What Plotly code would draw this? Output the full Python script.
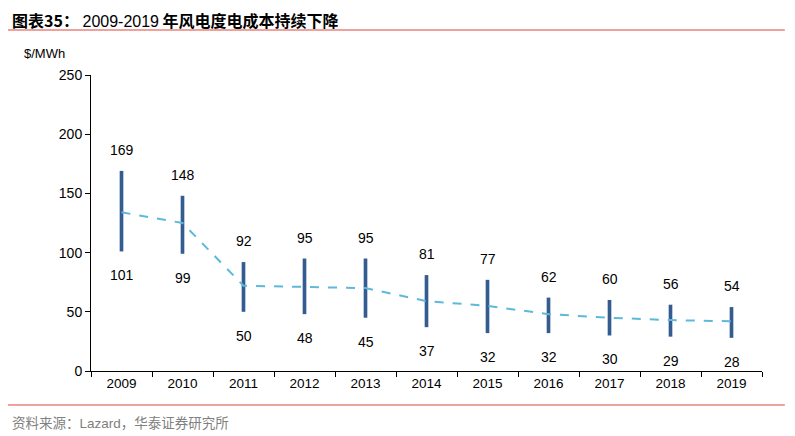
import plotly.graph_objects as go

years = [2009, 2010, 2011, 2012, 2013, 2014, 2015, 2016, 2017, 2018, 2019]
year_labels = ["2009", "2010", "2011", "2012", "2013", "2014", "2015", "2016", "2017", "2018", "2019"]
high = [169, 148, 92, 95, 95, 81, 77, 62, 60, 56, 54]
low = [101, 99, 50, 48, 45, 37, 32, 32, 30, 29, 28]
mid = [134, 125, 72, 71, 70, 59, 55, 48, 45, 43, 42]
y_ticks = [0, 50, 100, 150, 200, 250]

FONT = "Liberation Sans, Arial, sans-serif"
CJK = "Noto Sans CJK SC"

fig = go.Figure()
fig.add_trace(go.Bar(
    x=years, y=[h - l for h, l in zip(high, low)], base=low,
    width=0.06, marker=dict(color="#335C91", line=dict(width=0)),
    hoverinfo="skip", showlegend=False,
))
fig.add_trace(go.Scatter(
    x=years, y=mid, mode="lines",
    line=dict(color="#5DB9D9", width=2, dash="dash"),
    showlegend=False, hoverinfo="skip",
))

ann = []
for x, h, l in zip(years, high, low):
    ann.append(dict(x=x, y=h, text=str(h), showarrow=False, yshift=21,
                    font=dict(family=FONT, size=14, color="black")))
    ann.append(dict(x=x, y=l, text=str(l), showarrow=False, yshift=-24,
                    font=dict(family=FONT, size=14, color="black")))

ann.append(dict(xref="paper", yref="paper", x=-0.1028, y=1.074, xanchor="left", yanchor="middle",
                text="$/MWh", showarrow=False, font=dict(family=FONT, size=13, color="black")))
ann.append(dict(xref="paper", yref="paper", x=-0.1207, y=1.186, xanchor="left", yanchor="middle",
                text="<b>图表35：</b> <span style='font-family:Liberation Sans'>2009-2019</span> <b>年风电度电成本持续下降</b>",
                showarrow=False, font=dict(family=CJK, size=16, color="black")))
ann.append(dict(xref="paper", yref="paper", x=-0.1207, y=-0.172, xanchor="left", yanchor="middle",
                text="资料来源：<span style='font-family:Liberation Sans'>Lazard</span>，华泰证券研究所",
                showarrow=False, font=dict(family=CJK, size=13.5, color="#808080")))

shapes = [
    dict(type="line", xref="paper", yref="paper", x0=-0.1237, x1=1.034, y0=1.152, y1=1.152,
         line=dict(color="#E8837A", width=1.5)),
    dict(type="line", xref="paper", yref="paper", x0=-0.1237, x1=1.034, y0=-0.115, y1=-0.115,
         line=dict(color="#E8837A", width=1.5)),
]

fig.update_layout(
    width=795, height=436,
    margin=dict(l=83, r=41, t=67, b=73),
    paper_bgcolor="white", plot_bgcolor="white",
    annotations=ann, shapes=shapes,
    font=dict(family=FONT, size=13, color="black"),
    xaxis=dict(range=[years[0] - 0.5, years[-1] + 0.5], tickvals=years, ticktext=year_labels,
               showline=True, linecolor="black", linewidth=1, ticks="", showgrid=False, zeroline=False,
               minor=dict(tick0=years[0] - 0.5, dtick=1, ticks="outside", ticklen=5, tickcolor="black",
                          showgrid=False),
               tickfont=dict(family=FONT, size=13.5, color="black")),
    yaxis=dict(range=[0, 250], tickvals=y_ticks, showline=True, linecolor="black", linewidth=1,
               ticks="outside", ticklen=5, tickcolor="black", showgrid=False, zeroline=False,
               tickfont=dict(family=FONT, size=14, color="black")),
)
fig.write_html("out.html")
